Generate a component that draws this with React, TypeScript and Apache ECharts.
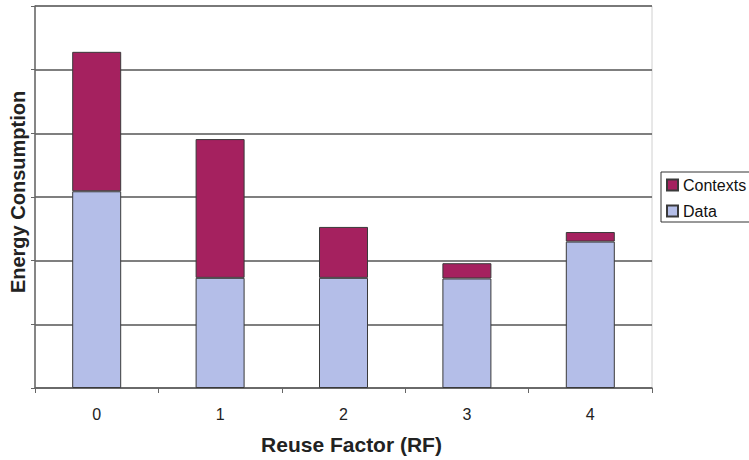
import React, { useEffect, useRef } from "react";
import * as echarts from "echarts";

const categories = ["0", "1", "2", "3", "4"];
const dataValues = [3.09, 1.73, 1.73, 1.72, 2.3];
const contextValues = [2.19, 2.18, 0.8, 0.24, 0.15];

export default function App() {
  const ref = useRef<HTMLDivElement>(null);
  useEffect(() => {
    if (!ref.current) return;
    const chart = echarts.init(ref.current, undefined, { renderer: "svg" });
    const font = "Liberation Sans, Arial, sans-serif";
    chart.setOption({
      animation: false,
      backgroundColor: "#ffffff",
      textStyle: { fontFamily: font },
      grid: {
        left: 32,
        right: 97,
        top: 6,
        bottom: 72,
        show: true,
        borderColor: "#d0d0d0",
        borderWidth: 1,
      },
      legend: {
        data: ["Contexts", "Data"],
        orient: "vertical",
        left: 661,
        top: 172,
        padding: [5, 5, 3, 5],
        itemGap: 10,
        itemWidth: 11,
        itemHeight: 11,
        borderColor: "#333",
        borderWidth: 1,
        icon: "rect",
        textStyle: { fontSize: 16, color: "#111", fontFamily: font },
      },
      xAxis: {
        type: "category",
        data: categories,
        boundaryGap: true,
        axisLine: { lineStyle: { color: "#666", width: 1.5 } },
        axisTick: { show: true, alignWithLabel: false, length: 5, lineStyle: { color: "#666" } },
        axisLabel: { fontSize: 16, color: "#222", margin: 18, fontFamily: font },
        name: "Reuse Factor (RF)",
        nameLocation: "middle",
        nameGap: 46,
        nameTextStyle: {
          fontSize: 21,
          fontWeight: "bold",
          color: "#222",
          fontFamily: font,
          padding: [0, 0, 0, 16],
        },
      },
      yAxis: {
        type: "value",
        min: 0,
        max: 6,
        interval: 1,
        axisLine: { show: true, lineStyle: { color: "#666", width: 1.5 } },
        axisTick: { show: true, length: 4, lineStyle: { color: "#666" } },
        axisLabel: { show: false },
        splitLine: { show: true, lineStyle: { color: "#555", width: 1.5 } },
        name: "Energy Consumption",
        nameLocation: "middle",
        nameGap: 7,
        nameRotate: 90,
        nameTextStyle: {
          fontSize: 20,
          fontWeight: "bold",
          color: "#222",
          fontFamily: font,
          padding: [0, 0, 0, 10],
        },
      },
      series: [
        {
          name: "Data",
          type: "bar",
          stack: "total",
          data: dataValues,
          barWidth: 49,
          itemStyle: { color: "#b4bee8", borderColor: "#3a3a3a", borderWidth: 1 },
        },
        {
          name: "Contexts",
          type: "bar",
          stack: "total",
          data: contextValues,
          barWidth: 49,
          itemStyle: { color: "#a5215f", borderColor: "#3a3a3a", borderWidth: 1 },
        },
      ],
    });
    return () => chart.dispose();
  }, []);
  return <div ref={ref} style={{ width: 749, height: 460, position: "absolute", left: 0, top: 0 }} />;
}
